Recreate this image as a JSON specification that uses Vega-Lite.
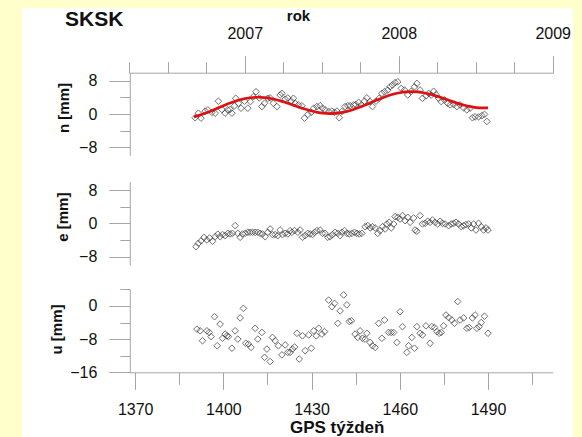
{
  "$schema": "https://vega.github.io/schema/vega-lite/v6.json",
  "autosize": "none",
  "width": 551,
  "height": 429,
  "padding": {"left": 22, "top": 8, "right": 9, "bottom": 0},
  "background": "#FFFFCC",
  "config": {
    "view": {"fill": "white", "stroke": null},
    "font": "Liberation Sans",
    "axis": {"grid": false, "domainColor": "#a5a5a5", "tickColor": "#a5a5a5", "labelColor": "#111", "titleColor": "#111", "labelFont": "Liberation Sans", "titleFont": "Liberation Sans", "labelFontSize": 16, "titleFontSize": 15, "titleFontWeight": "bold", "labelFlush": false, "labelOverlap": false, "labelBound": false}
  },
  "title": {"text": "SKSK", "anchor": "start", "frame": "group", "fontSize": 21, "fontWeight": "bold", "color": "#111", "dx": 43, "offset": -22},
  "datasets": {
    "n": [
      {"w":1390.4,"v":-0.9},{"w":1391.5,"v":0.2},{"w":1392.4,"v":-1.0},{"w":1393.8,"v":0.7},{"w":1394.7,"v":1.0},{"w":1396.1,"v":0.4},{"w":1397.2,"v":0.2},{"w":1398.3,"v":3.1},{"w":1399.5,"v":1.1},{"w":1400.6,"v":0.2},{"w":1401.5,"v":1.0},{"w":1402.3,"v":1.1},{"w":1402.9,"v":0.2},{"w":1403.8,"v":2.0},{"w":1404.2,"v":3.8},{"w":1405.1,"v":2.6},{"w":1406.0,"v":1.4},{"w":1407.2,"v":3.1},{"w":1408.3,"v":1.4},{"w":1409.2,"v":3.0},{"w":1410.2,"v":4.2},{"w":1411.1,"v":5.4},{"w":1412.2,"v":3.9},{"w":1413.1,"v":1.8},{"w":1414.0,"v":2.6},{"w":1415.1,"v":3.8},{"w":1415.9,"v":3.9},{"w":1417.0,"v":2.6},{"w":1418.2,"v":1.8},{"w":1419.3,"v":4.6},{"w":1419.9,"v":5.0},{"w":1421.0,"v":3.6},{"w":1421.9,"v":3.9},{"w":1423.1,"v":3.1},{"w":1423.8,"v":3.8},{"w":1424.4,"v":2.6},{"w":1425.5,"v":2.2},{"w":1426.7,"v":2.0},{"w":1427.6,"v":-1.0},{"w":1428.7,"v":-0.1},{"w":1429.9,"v":0.4},{"w":1430.7,"v":1.4},{"w":1431.8,"v":1.8},{"w":1432.9,"v":2.0},{"w":1433.7,"v":1.4},{"w":1434.6,"v":1.0},{"w":1435.8,"v":0.6},{"w":1436.9,"v":0.7},{"w":1437.8,"v":0.4},{"w":1438.6,"v":0.7},{"w":1439.4,"v":-0.9},{"w":1440.3,"v":0.6},{"w":1441.4,"v":1.8},{"w":1442.3,"v":2.0},{"w":1443.1,"v":2.0},{"w":1444.3,"v":2.2},{"w":1445.0,"v":2.3},{"w":1446.0,"v":2.8},{"w":1446.9,"v":2.2},{"w":1448.0,"v":3.1},{"w":1448.8,"v":3.9},{"w":1449.9,"v":3.0},{"w":1450.7,"v":1.8},{"w":1451.9,"v":3.1},{"w":1453.0,"v":3.8},{"w":1453.9,"v":5.0},{"w":1454.8,"v":5.4},{"w":1455.9,"v":5.8},{"w":1456.7,"v":6.6},{"w":1457.5,"v":7.0},{"w":1458.4,"v":7.6},{"w":1459.3,"v":7.8},{"w":1460.5,"v":6.2},{"w":1461.6,"v":5.8},{"w":1462.7,"v":4.6},{"w":1463.9,"v":5.5},{"w":1465.0,"v":6.6},{"w":1465.8,"v":7.4},{"w":1466.9,"v":5.8},{"w":1467.7,"v":3.8},{"w":1468.9,"v":4.4},{"w":1469.8,"v":5.0},{"w":1470.7,"v":4.6},{"w":1471.5,"v":5.5},{"w":1472.3,"v":4.7},{"w":1473.2,"v":3.8},{"w":1474.1,"v":3.0},{"w":1475.2,"v":3.4},{"w":1476.3,"v":2.6},{"w":1477.1,"v":2.2},{"w":1478.3,"v":2.3},{"w":1479.4,"v":1.8},{"w":1480.5,"v":2.2},{"w":1481.7,"v":1.5},{"w":1482.8,"v":1.0},{"w":1483.9,"v":1.4},{"w":1484.7,"v":-0.9},{"w":1485.6,"v":-0.7},{"w":1486.8,"v":-0.7},{"w":1487.9,"v":-0.4},{"w":1488.8,"v":-0.1},{"w":1489.6,"v":-1.8}
    ],
    "nfit": [
      {"w":1390,"v":-0.69},{"w":1392,"v":-0.27},{"w":1394,"v":0.24},{"w":1396,"v":0.81},{"w":1398,"v":1.41},{"w":1400,"v":2.01},{"w":1402,"v":2.58},{"w":1404,"v":3.09},{"w":1406,"v":3.5},{"w":1408,"v":3.81},{"w":1410,"v":4.0},{"w":1412,"v":4.05},{"w":1414,"v":3.97},{"w":1416,"v":3.76},{"w":1418,"v":3.45},{"w":1420,"v":3.05},{"w":1422,"v":2.58},{"w":1424,"v":2.09},{"w":1426,"v":1.59},{"w":1428,"v":1.13},{"w":1430,"v":0.72},{"w":1432,"v":0.4},{"w":1434,"v":0.19},{"w":1436,"v":0.11},{"w":1438,"v":0.15},{"w":1440,"v":0.33},{"w":1442,"v":0.63},{"w":1444,"v":1.05},{"w":1446,"v":1.55},{"w":1448,"v":2.11},{"w":1450,"v":2.72},{"w":1452,"v":3.32},{"w":1454,"v":3.89},{"w":1456,"v":4.4},{"w":1458,"v":4.83},{"w":1460,"v":5.15},{"w":1462,"v":5.34},{"w":1464,"v":5.41},{"w":1466,"v":5.34},{"w":1468,"v":5.14},{"w":1470,"v":4.84},{"w":1472,"v":4.45},{"w":1474,"v":3.99},{"w":1476,"v":3.49},{"w":1478,"v":2.99},{"w":1480,"v":2.52},{"w":1482,"v":2.11},{"w":1484,"v":1.78},{"w":1486,"v":1.56},{"w":1488,"v":1.47},{"w":1490,"v":1.5}
    ],
    "e": [
      {"w":1390.7,"v":-5.6},{"w":1391.5,"v":-4.8},{"w":1392.4,"v":-4.2},{"w":1393.4,"v":-3.4},{"w":1394.4,"v":-4.0},{"w":1395.3,"v":-3.5},{"w":1396.3,"v":-4.3},{"w":1397.2,"v":-3.2},{"w":1398.1,"v":-2.6},{"w":1398.9,"v":-3.2},{"w":1399.7,"v":-2.7},{"w":1400.6,"v":-2.95},{"w":1401.5,"v":-2.4},{"w":1402.3,"v":-2.55},{"w":1403.1,"v":-2.4},{"w":1404.0,"v":-0.55},{"w":1404.9,"v":-2.4},{"w":1405.7,"v":-3.35},{"w":1406.5,"v":-2.55},{"w":1407.4,"v":-2.4},{"w":1408.3,"v":-2.15},{"w":1409.1,"v":-2.15},{"w":1409.9,"v":-2.15},{"w":1410.8,"v":-2.15},{"w":1411.7,"v":-2.15},{"w":1412.5,"v":-2.4},{"w":1413.3,"v":-2.55},{"w":1414.2,"v":-3.2},{"w":1415.1,"v":-2.15},{"w":1415.9,"v":-1.35},{"w":1416.7,"v":-2.7},{"w":1417.6,"v":-2.7},{"w":1418.5,"v":-2.95},{"w":1419.3,"v":-1.6},{"w":1420.1,"v":-2.7},{"w":1421.0,"v":-2.4},{"w":1421.9,"v":-2.55},{"w":1422.7,"v":-1.75},{"w":1423.3,"v":-2.15},{"w":1424.2,"v":-1.75},{"w":1425.3,"v":-2.15},{"w":1426.1,"v":-1.6},{"w":1426.9,"v":-3.35},{"w":1427.8,"v":-2.95},{"w":1428.7,"v":-2.4},{"w":1429.5,"v":-2.55},{"w":1430.3,"v":-2.7},{"w":1431.0,"v":-2.15},{"w":1431.8,"v":-1.75},{"w":1432.9,"v":-1.6},{"w":1433.7,"v":-2.4},{"w":1434.6,"v":-2.4},{"w":1435.5,"v":-3.35},{"w":1436.3,"v":-3.2},{"w":1437.1,"v":-2.7},{"w":1438.0,"v":-2.15},{"w":1438.9,"v":-2.4},{"w":1439.7,"v":-2.95},{"w":1440.3,"v":-2.15},{"w":1441.2,"v":-1.75},{"w":1442.0,"v":-2.4},{"w":1442.8,"v":-2.55},{"w":1443.7,"v":-2.4},{"w":1444.6,"v":-2.15},{"w":1445.4,"v":-2.4},{"w":1446.2,"v":-2.55},{"w":1447.1,"v":-2.4},{"w":1448.2,"v":-0.8},{"w":1449.1,"v":-0.55},{"w":1449.9,"v":-1.1},{"w":1450.7,"v":-0.8},{"w":1451.6,"v":-1.1},{"w":1452.5,"v":-2.4},{"w":1453.3,"v":-1.75},{"w":1454.1,"v":-0.8},{"w":1455.0,"v":-1.35},{"w":1455.6,"v":-0.15},{"w":1456.4,"v":0.25},{"w":1457.1,"v":-1.1},{"w":1457.9,"v":-0.15},{"w":1458.4,"v":1.6},{"w":1459.3,"v":1.45},{"w":1460.1,"v":1.05},{"w":1460.9,"v":1.85},{"w":1461.8,"v":0.65},{"w":1462.7,"v":1.45},{"w":1463.5,"v":0.25},{"w":1464.7,"v":1.3},{"w":1465.2,"v":-1.6},{"w":1465.8,"v":-1.9},{"w":1466.9,"v":1.85},{"w":1467.7,"v":-0.15},{"w":1468.6,"v":0.0},{"w":1469.5,"v":0.5},{"w":1470.3,"v":0.25},{"w":1471.1,"v":0.8},{"w":1472.0,"v":0.25},{"w":1472.9,"v":-0.15},{"w":1473.7,"v":0.5},{"w":1474.5,"v":0.0},{"w":1475.4,"v":-0.15},{"w":1476.6,"v":-0.55},{"w":1477.5,"v":-0.15},{"w":1478.3,"v":0.0},{"w":1479.1,"v":0.25},{"w":1480.0,"v":-0.15},{"w":1480.9,"v":-0.8},{"w":1481.7,"v":-0.55},{"w":1482.5,"v":-0.3},{"w":1483.4,"v":-0.15},{"w":1484.3,"v":-1.1},{"w":1485.1,"v":-0.15},{"w":1485.9,"v":-1.6},{"w":1486.8,"v":0.0},{"w":1487.7,"v":-0.8},{"w":1488.5,"v":-1.6},{"w":1489.3,"v":-1.1},{"w":1490.0,"v":-1.6}
    ],
    "u": [
      {"w":1391.0,"v":-5.6},{"w":1392.1,"v":-6.0},{"w":1392.9,"v":-8.4},{"w":1394.4,"v":-6.0},{"w":1395.2,"v":-6.4},{"w":1395.8,"v":-7.4},{"w":1397.0,"v":-2.6},{"w":1397.9,"v":-9.6},{"w":1398.9,"v":-4.4},{"w":1399.7,"v":-7.8},{"w":1400.6,"v":-6.8},{"w":1401.2,"v":-7.2},{"w":1401.7,"v":-7.4},{"w":1402.9,"v":-10.2},{"w":1404.0,"v":-6.0},{"w":1404.9,"v":-8.0},{"w":1405.7,"v":-2.9},{"w":1406.8,"v":-0.6},{"w":1407.6,"v":-9.0},{"w":1408.5,"v":-9.2},{"w":1409.4,"v":-10.0},{"w":1410.8,"v":-5.4},{"w":1411.7,"v":-8.0},{"w":1413.1,"v":-6.4},{"w":1414.0,"v":-12.4},{"w":1414.8,"v":-10.4},{"w":1415.9,"v":-13.4},{"w":1416.7,"v":-7.6},{"w":1417.6,"v":-8.4},{"w":1418.7,"v":-9.6},{"w":1419.9,"v":-11.8},{"w":1421.0,"v":-9.4},{"w":1421.9,"v":-11.2},{"w":1422.7,"v":-11.2},{"w":1423.5,"v":-10.4},{"w":1424.2,"v":-9.9},{"w":1425.0,"v":-6.6},{"w":1425.8,"v":-12.8},{"w":1426.9,"v":-7.2},{"w":1427.8,"v":-10.8},{"w":1429.0,"v":-7.0},{"w":1429.9,"v":-10.2},{"w":1430.7,"v":-6.0},{"w":1431.6,"v":-7.2},{"w":1432.4,"v":-5.4},{"w":1433.5,"v":-6.8},{"w":1434.4,"v":-6.2},{"w":1435.8,"v":1.4},{"w":1436.9,"v":-0.2},{"w":1437.8,"v":0.6},{"w":1438.9,"v":-4.2},{"w":1439.7,"v":-1.2},{"w":1440.9,"v":2.65},{"w":1442.0,"v":0.25},{"w":1442.8,"v":-3.75},{"w":1443.5,"v":-3.6},{"w":1444.8,"v":-6.8},{"w":1445.7,"v":-7.6},{"w":1446.5,"v":-6.0},{"w":1447.3,"v":-7.8},{"w":1448.2,"v":-8.0},{"w":1448.8,"v":-6.6},{"w":1449.9,"v":-8.8},{"w":1450.7,"v":-9.6},{"w":1451.6,"v":-10.0},{"w":1452.8,"v":-4.2},{"w":1453.9,"v":-7.8},{"w":1454.8,"v":-3.4},{"w":1456.2,"v":-6.4},{"w":1457.1,"v":-6.4},{"w":1457.9,"v":-6.4},{"w":1459.0,"v":-8.8},{"w":1460.1,"v":-1.4},{"w":1460.9,"v":-5.0},{"w":1462.4,"v":-11.2},{"w":1463.0,"v":-9.6},{"w":1464.1,"v":-7.6},{"w":1465.0,"v":-10.2},{"w":1465.8,"v":-5.0},{"w":1466.9,"v":-6.6},{"w":1467.7,"v":-7.0},{"w":1468.9,"v":-4.8},{"w":1470.3,"v":-9.0},{"w":1470.9,"v":-5.0},{"w":1471.8,"v":-5.2},{"w":1472.6,"v":-6.2},{"w":1473.4,"v":-6.6},{"w":1474.1,"v":-6.4},{"w":1474.9,"v":-4.8},{"w":1475.7,"v":-2.2},{"w":1476.6,"v":-2.8},{"w":1477.7,"v":-3.4},{"w":1478.6,"v":-4.2},{"w":1479.7,"v":1.05},{"w":1480.5,"v":-3.4},{"w":1481.7,"v":-2.9},{"w":1482.8,"v":-5.4},{"w":1483.6,"v":-5.2},{"w":1484.7,"v":-2.9},{"w":1485.6,"v":-2.2},{"w":1486.2,"v":-5.4},{"w":1487.0,"v":-5.0},{"w":1487.7,"v":-4.0},{"w":1488.8,"v":-2.5},{"w":1490.0,"v":-6.6}
    ],
    "years": [{"rok": 2007}, {"rok": 2008}, {"rok": 2009}]
  },
  "layer": [
    {
      "data": {"name": "n"},
      "mark": {"type": "point", "shape": "diamond", "filled": false, "size": 44, "strokeWidth": 1, "color": "#333"},
      "encoding": {
        "x": {"field": "w", "type": "quantitative", "scale": {"domain": [1368, 1512], "range": [107.3, 530.7], "nice": false, "zero": false}, "axis": null},
        "y": {"field": "v", "type": "quantitative", "scale": {"domain": [-10, 10], "range": [147.3, 64.7], "nice": false, "zero": false},
          "axis": {"orient": "left", "offset": -107.8, "values": [-8, -4, 0, 4, 8], "labelExpr": "datum.value % 8 === 0 ? datum.label : ''", "tickSize": {"condition": {"test": "datum.value % 8 === 0", "value": 21}, "value": 10}, "labelPadding": 12, "title": "n [mm]", "titleX": -66.8, "titleY": 99.5, "titleBaseline": "middle", "titleAlign": "center", "titleAngle": -90}}
      }
    },
    {
      "data": {"name": "nfit"},
      "mark": {"type": "line", "color": "#DD1111", "strokeWidth": 2.7, "interpolate": "monotone"},
      "encoding": {
        "x": {"field": "w", "type": "quantitative", "scale": {"domain": [1368, 1512], "range": [107.3, 530.7], "nice": false, "zero": false}, "axis": null},
        "y": {"field": "v", "type": "quantitative", "scale": {"domain": [-10, 10], "range": [147.3, 64.7], "nice": false, "zero": false}, "axis": null}
      }
    },
    {
      "data": {"name": "e"},
      "mark": {"type": "point", "shape": "diamond", "filled": false, "size": 44, "strokeWidth": 1, "color": "#333"},
      "encoding": {
        "x": {"field": "w", "type": "quantitative", "scale": {"domain": [1368, 1512], "range": [107.3, 530.7], "nice": false, "zero": false}, "axis": null},
        "y": {"field": "v", "type": "quantitative", "scale": {"domain": [-10, 10], "range": [257, 173.7], "nice": false, "zero": false},
          "axis": {"orient": "left", "offset": -107.8, "values": [-8, -4, 0, 4, 8], "labelExpr": "datum.value % 8 === 0 ? datum.label : ''", "tickSize": {"condition": {"test": "datum.value % 8 === 0", "value": 21}, "value": 10}, "labelPadding": 12, "title": "e [mm]", "titleX": -67.3, "titleY": 208.7, "titleBaseline": "middle", "titleAlign": "center", "titleAngle": -90}}
      }
    },
    {
      "data": {"name": "u"},
      "mark": {"type": "point", "shape": "diamond", "filled": false, "size": 44, "strokeWidth": 1, "color": "#333"},
      "encoding": {
        "x": {"field": "w", "type": "quantitative", "scale": {"domain": [1368, 1512], "range": [107.3, 530.7], "nice": false, "zero": false},
          "axis": {"orient": "bottom", "offset": -64.7, "values": [1370, 1385, 1400, 1415, 1430, 1445, 1460, 1475, 1490, 1505], "format": "d", "labelExpr": "datum.value % 30 === 20 ? datum.label : ''", "tickSize": {"condition": {"test": "datum.value % 30 === 20", "value": 17}, "value": 12}, "labelPadding": 12, "title": "GPS týždeň", "titleFontSize": 17, "titleX": 314.7, "titleY": 60.5, "titleBaseline": "alphabetic", "titleAlign": "center"}},
        "y": {"field": "v", "type": "quantitative", "scale": {"domain": [-16, 4], "range": [364.3, 281.3], "nice": false, "zero": false},
          "axis": {"orient": "left", "offset": -107.8, "values": [-16, -12, -8, -4, 0, 4], "labelExpr": "datum.value % 8 === 0 ? datum.label : ''", "tickSize": {"condition": {"test": "datum.value % 8 === 0", "value": 21}, "value": 10}, "labelPadding": 12, "title": "u [mm]", "titleX": -73.1, "titleY": 321, "titleBaseline": "middle", "titleAlign": "center", "titleAngle": -90}}
      }
    },
    {
      "data": {"name": "years"},
      "mark": {"type": "point", "opacity": 0},
      "encoding": {
        "x": {"field": "rok", "type": "quantitative", "scale": {"domain": [2006.25, 2009], "range": [107.3, 530.7], "nice": false, "zero": false},
          "axis": {"orient": "top", "offset": -64.7, "values": [2006.25, 2006.5, 2006.75, 2007, 2007.25, 2007.5, 2007.75, 2008, 2008.25, 2008.5, 2008.75, 2009], "labels": false, "tickSize": 11, "title": "rok", "titleX": 276, "titleY": -51.7, "titleBaseline": "alphabetic", "titleAlign": "center"}}
      }
    },
    {
      "data": {"name": "years"},
      "mark": {"type": "point", "opacity": 0},
      "encoding": {
        "x": {"field": "rok", "type": "quantitative", "scale": {"domain": [2006.25, 2009], "range": [107.3, 530.7], "nice": false, "zero": false},
          "axis": {"orient": "top", "offset": -64.7, "values": [2007, 2008, 2009], "format": "d", "tickSize": 17, "labelPadding": 14, "domain": false, "title": null}}
      }
    }
  ],
  "resolve": {"scale": {"x": "independent", "y": "independent"}}
}
